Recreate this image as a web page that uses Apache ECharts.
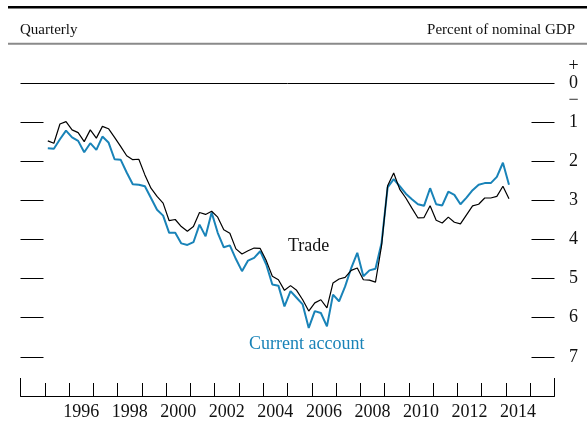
<!DOCTYPE html>
<html>
<head>
<meta charset="utf-8">
<title>Trade and current account balance</title>
<script src="https://cdn.jsdelivr.net/npm/echarts@6.0.0/dist/echarts.min.js"></script>
<style>
  html, body { margin: 0; padding: 0; background: #fff; }
  #main { width: 587px; height: 423px; }
</style>
</head>
<body>
<div id="main"></div>
<script>
// quarterly, 1995:Q1 - 2014:Q1, deficit as percent of nominal GDP (axis inverted)
var startYear = 1995;
var tradeBalance = [
  1.48, 1.54, 1.05, 0.99, 1.20, 1.27, 1.50, 1.20, 1.41, 1.11, 1.17, 1.39,
  1.62, 1.86, 1.96, 1.95, 2.35, 2.69, 2.90, 3.07, 3.52, 3.49, 3.67, 3.79,
  3.67, 3.31, 3.36, 3.28, 3.43, 3.75, 3.84, 4.24, 4.37, 4.29, 4.22, 4.23,
  4.54, 4.94, 5.03, 5.30, 5.18, 5.30, 5.54, 5.83, 5.62, 5.54, 5.75, 5.11,
  5.01, 4.97, 4.79, 4.73, 5.03, 5.04, 5.09, 4.16, 2.63, 2.30, 2.72, 2.94,
  3.20, 3.45, 3.44, 3.14, 3.51, 3.58, 3.43, 3.56, 3.60, 3.37, 3.14, 3.10,
  2.94, 2.94, 2.90, 2.64, 2.96
];
var currentAccount = [
  1.67, 1.68, 1.44, 1.22, 1.39, 1.48, 1.77, 1.54, 1.71, 1.37, 1.52, 1.95,
  1.96, 2.29, 2.59, 2.60, 2.64, 2.94, 3.24, 3.39, 3.83, 3.83, 4.10, 4.14,
  4.07, 3.62, 3.92, 3.31, 3.83, 4.20, 4.15, 4.50, 4.81, 4.54, 4.47, 4.30,
  4.64, 5.15, 5.18, 5.71, 5.32, 5.49, 5.66, 6.26, 5.83, 5.88, 6.22, 5.41,
  5.58, 5.20, 4.73, 4.34, 4.94, 4.79, 4.75, 4.09, 2.67, 2.46, 2.64, 2.83,
  2.97, 3.10, 3.14, 2.69, 3.10, 3.13, 2.78, 2.86, 3.10, 2.93, 2.74, 2.60,
  2.56, 2.56, 2.40, 2.04, 2.60
];
var yearLabels = [1996, 1998, 2000, 2002, 2004, 2006, 2008, 2010, 2012, 2014];
var yTicks = [1, 2, 3, 4, 5, 6, 7];
var yLabels = [0, 1, 2, 3, 4, 5, 6, 7];

var serif = "'Liberation Serif', 'Times New Roman', serif";
var blue = '#1983b8';

function toPoints(arr){
  return arr.map(function(v, i){
    return [startYear + 0.125 + i * 0.25, v];
  });
}

var yearTicks = [];
for (var y = 1995; y <= 2015; y++) yearTicks.push(y);

var chart = echarts.init(document.getElementById('main'), null, {renderer: 'canvas'});

chart.setOption({
  animation: false,
  backgroundColor: '#fff',
  grid: { left: 20.5, right: 32.5, top: 43.8, bottom: 27, containLabel: false },
  xAxis: [{
    type: 'value',
    min: 1994,
    max: 2016,
    position: 'bottom',
    axisLine: { show: true, onZero: false, lineStyle: { color: '#000', width: 1 } },
    axisTick: { show: true, inside: true, length: 13, customValues: yearTicks,
      lineStyle: { color: '#000', width: 1 } },
    axisLabel: {
      show: true,
      customValues: yearLabels.map(function(v){ return v + 0.5; }),
      formatter: function(v){ return String(Math.floor(v)); },
      color: '#111', fontFamily: serif, fontSize: 18, margin: 7
    },
    splitLine: { show: false }
  }, {
    type: 'value',
    min: 1994,
    max: 2016,
    position: 'bottom',
    axisLine: { show: false, onZero: false },
    axisTick: { show: true, inside: true, length: 18, customValues: [1994, 2016],
      lineStyle: { color: '#000', width: 1 } },
    axisLabel: { show: false },
    splitLine: { show: false }
  }],
  yAxis: [{
    type: 'value',
    position: 'left',
    min: -1,
    max: 8,
    inverse: true,
    axisLine: { show: false, onZero: false },
    axisTick: { show: true, inside: true, length: 23, customValues: yTicks,
      lineStyle: { color: '#000', width: 1 } },
    axisLabel: { show: false },
    splitLine: { show: false }
  }, {
    type: 'value',
    position: 'right',
    min: -1,
    max: 8,
    inverse: true,
    axisLine: { show: false, onZero: false },
    axisTick: { show: true, inside: true, length: 23, customValues: yTicks,
      lineStyle: { color: '#000', width: 1 } },
    axisLabel: {
      show: true,
      customValues: yLabels,
      align: 'center',
      margin: 19,
      lineHeight: 17,
      color: '#111', fontFamily: serif, fontSize: 18,
      formatter: function(v){ return v === 0 ? '+\n0\n\u2212' : String(v); }
    },
    splitLine: { show: false }
  }],
  series: [{
    name: 'Current account',
    type: 'line',
    data: toPoints(currentAccount),
    showSymbol: false,
    lineStyle: { color: blue, width: 2 },
    z: 2
  }, {
    name: 'Trade',
    type: 'line',
    data: toPoints(tradeBalance),
    showSymbol: false,
    lineStyle: { color: '#000', width: 1.2 },
    z: 3,
    markLine: {
      silent: true,
      symbol: 'none',
      label: { show: false },
      lineStyle: { color: '#000', width: 1, type: 'solid' },
      data: [{ yAxis: 0 }]
    }
  }],
  graphic: [
    { type: 'rect', shape: { x: 8, y: 6, width: 579, height: 2.5 }, style: { fill: '#000' } },
    { type: 'rect', shape: { x: 8, y: 42.8, width: 579, height: 2 }, style: { fill: '#8a8a8a' } },
    { type: 'text', left: 20, top: 23, style: { text: 'Quarterly', fill: '#111', font: '15px ' + serif } },
    { type: 'text', right: 12, top: 23, style: { text: 'Percent of nominal GDP', fill: '#111', font: '15px ' + serif } },
    { type: 'text', left: 288, top: 237, style: { text: 'Trade', fill: '#111', font: '18px ' + serif } },
    { type: 'text', left: 249, top: 335, style: { text: 'Current account', fill: blue, font: '18px ' + serif } }
  ]
});
</script>
</body>
</html>
